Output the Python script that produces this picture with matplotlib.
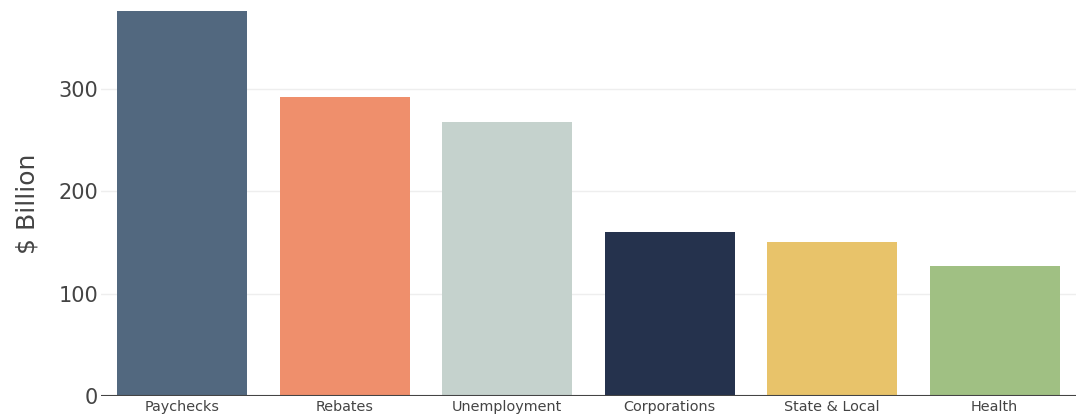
import matplotlib
matplotlib.use("Agg")
import matplotlib.pyplot as plt

# data
categories = ["Paychecks", "Rebates", "Unemployment", "Corporations", "State & Local", "Health"]
values = [377, 292, 268, 160, 150, 127]
colors = ["#52687f", "#ef8f6c", "#c5d2cd", "#25324d", "#e8c36a", "#a0c083"]
yticks = [0, 100, 200, 300]

plt.rcParams['font.family'] = ['DejaVu Sans']

fig = plt.figure(figsize=(10.76, 4.16), dpi=100)
ax = fig.add_axes([101/1076, 20/416, 975/1076, 385/416])

x = range(len(categories))
ax.bar(x, values, width=0.8, color=colors, zorder=2)

ax.set_xlim(-0.5, len(categories) - 0.5)
ax.set_ylim(0, 376)
ax.set_yticks(yticks)
ax.set_xticks(list(x))
ax.set_xticklabels(categories, fontsize=10.4, color="#444444")
ax.tick_params(axis='x', length=0, pad=3)
ax.tick_params(axis='y', length=0, labelsize=15, labelcolor="#444444", pad=2)
ax.grid(axis='y', color="#eeeeee", linewidth=1, zorder=0)
ax.axhline(0, color="#444444", linewidth=1.5, zorder=3)

for s in ax.spines.values():
    s.set_visible(False)

ax.set_ylabel("$ Billion", fontsize=18, color="#444444", labelpad=14)

fig.savefig("out.png", dpi=100)
